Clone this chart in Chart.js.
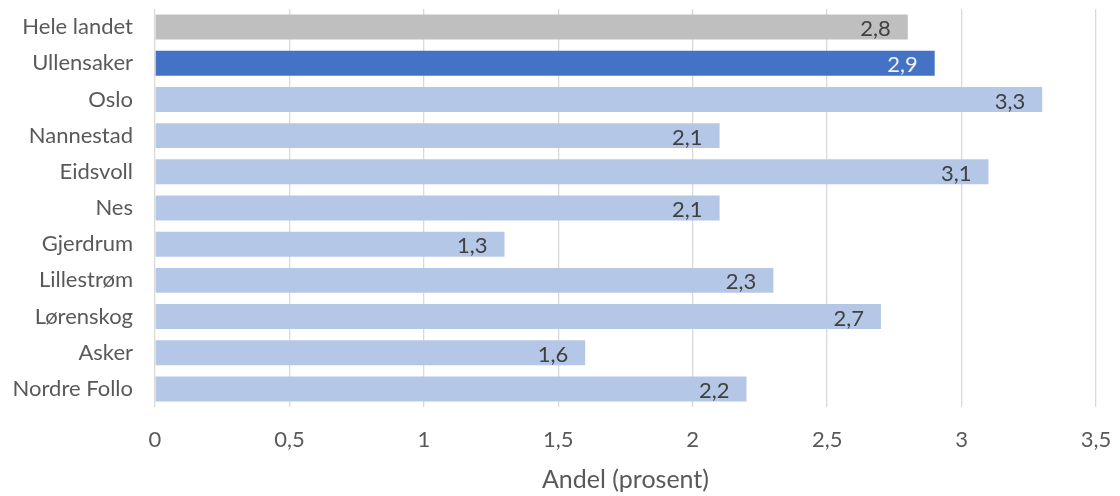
<!DOCTYPE html>
<html>
<head>
<meta charset="utf-8">
<script src="https://cdn.jsdelivr.net/npm/chart.js@4"></script>
<style>
  html, body { margin: 0; padding: 0; background: #fff; }
  #wrap { width: 1120px; height: 496px; }
</style>
</head>
<body>
<div id="wrap"><canvas id="andelChart" width="1120" height="496"></canvas></div>
<script>
const kommuner = ['Hele landet', 'Ullensaker', 'Oslo', 'Nannestad', 'Eidsvoll', 'Nes', 'Gjerdrum', 'Lillestrøm', 'Lørenskog', 'Asker', 'Nordre Follo'];
const andel = [2.8, 2.9, 3.3, 2.1, 3.1, 2.1, 1.3, 2.3, 2.7, 1.6, 2.2];
const xTicks = [0, 0.5, 1, 1.5, 2, 2.5, 3, 3.5];

const fmt = v => String(v).replace('.', ',');

// grey for the country, dark blue for Ullensaker, light blue for the rest
const barColors = kommuner.map((k, i) => i === 0 ? '#bfbfbf' : i === 1 ? '#4472c4' : '#b4c7e7');
const labelColors = kommuner.map((k, i) => i === 1 ? '#f2f2f2' : '#404040');

const FONT = 'Lato, "Open Sans", sans-serif';

// value labels drawn inside the bar end
const valueLabels = {
  id: 'valueLabels',
  afterDatasetsDraw(chart) {
    const { ctx } = chart;
    const meta = chart.getDatasetMeta(0);
    ctx.save();
    ctx.font = `22px ${FONT}`;
    ctx.textAlign = 'right';
    ctx.textBaseline = 'middle';
    meta.data.forEach((bar, i) => {
      ctx.fillStyle = labelColors[i];
      ctx.fillText(fmt(andel[i]), bar.x - 17, bar.y + 2);
    });
    ctx.restore();
  }
};

new Chart(document.getElementById('andelChart').getContext('2d'), {
  type: 'bar',
  data: {
    labels: kommuner,
    datasets: [{
      data: andel,
      backgroundColor: barColors,
      borderWidth: 0,
      categoryPercentage: 1,
      barPercentage: 0.69,
    }],
  },
  options: {
    indexAxis: 'y',
    responsive: false,
    animation: false,
    layout: { padding: { top: 9, right: 24, bottom: 0, left: 0 } },
    plugins: {
      legend: { display: false },
      tooltip: { enabled: false },
    },
    scales: {
      x: {
        min: 0,
        max: 3.5,
        afterBuildTicks: scale => { scale.ticks = xTicks.map(v => ({ value: v })); },
        afterFit: scale => {
          scale.height = 89;
          scale.paddingLeft = 0;
          scale.paddingRight = 0;
        },
        border: { display: false },
        grid: { color: '#d9d9d9', lineWidth: 1.3, drawTicks: false },
        ticks: {
          padding: 20,
          color: '#595959',
          font: { family: FONT, size: 22 },
          callback: v => fmt(v),
        },
        title: {
          display: true,
          text: 'Andel (prosent)',
          color: '#595959',
          font: { family: FONT, size: 25 },
          padding: { top: 0, bottom: 1 },
        },
      },
      y: {
        afterFit: scale => {
          scale.width = 155;
          scale.paddingTop = 0;
          scale.paddingBottom = 0;
        },
        border: { display: false },
        grid: { display: false, drawTicks: false },
        ticks: {
          padding: 22,
          color: '#595959',
          font: { family: FONT, size: 22 },
        },
      },
    },
  },
  plugins: [valueLabels],
});
</script>
</body>
</html>
